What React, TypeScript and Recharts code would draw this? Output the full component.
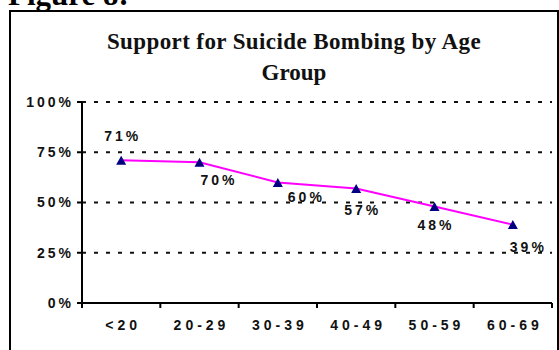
import { LineChart, Line, XAxis, YAxis, CartesianGrid } from 'recharts'

const ageGroups = ['<20', '20-29', '30-39', '40-49', '50-59', '60-69']
const support = [0.71, 0.7, 0.6, 0.57, 0.48, 0.39]
const percentTicks = [0, 0.25, 0.5, 0.75, 1]

// where each value label sits relative to its marker: [dx, baseline dy]
const labelNudge = [
  [0, -19],
  [18, 23],
  [27, 20],
  [5, 27],
  [0, 23],
  [14, 27],
]

const data = ageGroups.map((age, i) => ({ age, support: support[i] }))

const W = 559
const H = 350
const margin = { top: 102, right: 7, bottom: 17, left: 10 }
const yAxisWidth = 72
const plotLeft = margin.left + yAxisWidth
const plotRight = W - margin.right
const bandWidth = (plotRight - plotLeft) / ageGroups.length

const sans = '"Liberation Sans", Arial, sans-serif'
const serif = '"Liberation Serif", "Times New Roman", serif'

const pct = (v: number) => `${Math.round(v * 100)}%`

function Triangle(props: any) {
  const { cx, cy } = props
  if (cx == null || cy == null) return null
  return (
    <polygon
      points={`${cx - 5},${cy + 4.5} ${cx + 5},${cy + 4.5} ${cx},${cy - 4.5}`}
      fill="#000080"
    />
  )
}

function ValueLabel(props: any) {
  const { x, y, value, index } = props
  const [dx, dy] = labelNudge[index] ?? [0, -12]
  return (
    <text
      x={x + dx + 1.5}
      y={y + dy}
      textAnchor="middle"
      fontFamily={sans}
      fontWeight="bold"
      fontSize={14}
      letterSpacing={3}
      fill="#111"
    >
      {pct(value)}
    </text>
  )
}

function AgeTick(props: any) {
  const { x, y, payload, index } = props
  const half = payload?.offset ? payload.offset : bandWidth / 2
  const left = x - half
  return (
    <g>
      <line x1={left} y1={y} x2={left} y2={y + 5} stroke="#000" strokeWidth={2} />
      {index === ageGroups.length - 1 && (
        <line x1={x + half} y1={y} x2={x + half} y2={y + 5} stroke="#000" strokeWidth={2} />
      )}
      <text
        x={x + 2}
        y={y + 27}
        textAnchor="middle"
        fontFamily={sans}
        fontWeight="bold"
        fontSize={14}
        letterSpacing={4}
        fill="#111"
      >
        {payload.value}
      </text>
    </g>
  )
}

export default function App() {
  return (
    <div
      style={{
        position: 'absolute',
        left: 0,
        top: 0,
        width: W,
        height: H,
        overflow: 'hidden',
        background: '#fff',
      }}
    >
      <LineChart width={W} height={H} data={data} margin={margin}>
        <CartesianGrid
          horizontal
          vertical={false}
          stroke="#111"
          strokeWidth={2}
          strokeDasharray="4 8"
        />
        <XAxis
          dataKey="age"
          scale="band"
          height={30}
          tickLine={false}
          tickSize={0}
          tickMargin={0}
          interval={0}
          axisLine={{ stroke: '#000', strokeWidth: 2 }}
          tick={<AgeTick />}
        />
        <YAxis
          domain={[0, 1]}
          ticks={percentTicks}
          width={yAxisWidth}
          tickSize={5}
          tickMargin={3}
          tickFormatter={pct}
          axisLine={{ stroke: '#000', strokeWidth: 2 }}
          tickLine={{ stroke: '#000', strokeWidth: 2 }}
          tick={{
            fill: '#111',
            fontFamily: sans,
            fontWeight: 'bold',
            fontSize: 14,
            letterSpacing: 3,
          }}
        />
        <YAxis
          yAxisId="edge"
          orientation="right"
          domain={[0, 1]}
          width={0}
          tick={false}
          tickLine={false}
          axisLine={{ stroke: '#000', strokeWidth: 2 }}
        />
        <Line
          type="linear"
          dataKey="support"
          stroke="#ff00ff"
          strokeWidth={2}
          dot={<Triangle />}
          activeDot={false}
          label={<ValueLabel />}
          isAnimationActive={false}
        />
      </LineChart>

      <svg
        width={W}
        height={H}
        style={{ position: 'absolute', left: 0, top: 0, pointerEvents: 'none' }}
      >
        <text x={8} y={5} fontFamily={serif} fontWeight="bold" fontSize={31} fill="#000">
          Figure 8:
        </text>
        <rect x={10} y={11} width={548} height={360} fill="none" stroke="#000" strokeWidth={2} />
        <text
          x={294}
          y={49}
          textAnchor="middle"
          fontFamily={serif}
          fontWeight="bold"
          fontSize={23}
          letterSpacing={0.4}
          fill="#111"
        >
          Support for Suicide Bombing by Age
        </text>
        <text
          x={294}
          y={80}
          textAnchor="middle"
          fontFamily={serif}
          fontWeight="bold"
          fontSize={23}
          fill="#111"
        >
          Group
        </text>
      </svg>
    </div>
  )
}
